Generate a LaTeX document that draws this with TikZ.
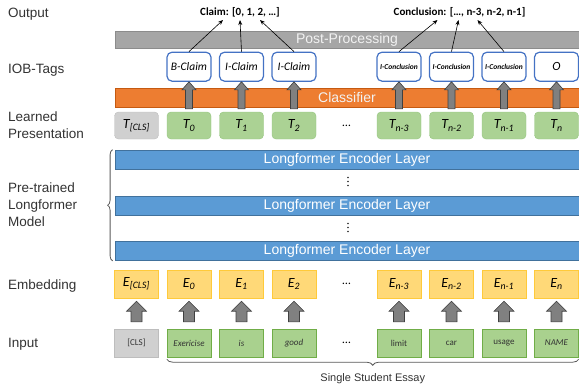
\documentclass[tikz,border=0pt]{standalone}
\usepackage{fontspec}
\setmainfont{Carlito}
\newfontfamily\labelfont{Liberation Sans}
\usetikzlibrary{arrows.meta,positioning,calc,decorations.pathreplacing}
\definecolor{labelText}{HTML}{333333}
\definecolor{postGray}{HTML}{A6A6A6}
\definecolor{postLine}{HTML}{8C8C8C}
\definecolor{postText}{HTML}{F2F2F2}
\definecolor{clfOrange}{HTML}{ED7D31}
\definecolor{clfLine}{HTML}{C55A11}
\definecolor{encBlue}{HTML}{5B9BD5}
\definecolor{encLine}{HTML}{41719C}
\definecolor{tokGreen}{HTML}{ABD294}
\definecolor{tokLine}{HTML}{93C47D}
\definecolor{clsGray}{HTML}{D0D0D0}
\definecolor{clsLine}{HTML}{BDBDBD}
\definecolor{embYellow}{HTML}{FFD978}
\definecolor{embLine}{HTML}{FFCA3A}
\definecolor{wordGreen}{HTML}{A9D18E}
\definecolor{wordLine}{HTML}{70AD47}
\definecolor{tagBlue}{HTML}{4472C4}
\definecolor{arrowGray}{HTML}{808080}
\definecolor{arrowLine}{HTML}{404040}
\definecolor{braceGray}{HTML}{595959}

\begin{document}
\begin{tikzpicture}[
      x=1pt, y=-1pt,
      node distance=8.1pt,
      rowlabel/.style={anchor=base west, align=left, inner sep=0pt, text=labelText, font=\labelfont\fontsize{13.5}{17}\selectfont},
      bar/.style={rectangle, minimum width=464pt, inner sep=0pt, line width=0.8pt, font=\labelfont\fontsize{14}{16}\selectfont},
      tok/.style={rectangle, rounded corners=4pt, minimum width=44pt, minimum height=27pt, inner sep=0pt, fill=tokGreen, draw=tokLine, font=\fontsize{14}{16}\selectfont\itshape},
      emb/.style={rectangle, minimum width=44pt, minimum height=28pt, inner sep=0pt, fill=embYellow, draw=embLine, font=\fontsize{14}{16}\selectfont\itshape},
      word/.style={rectangle, minimum width=44pt, minimum height=28pt, inner sep=0pt, fill=wordGreen, draw=wordLine, text=labelText, font=\fontsize{9}{11}\selectfont},
      tag/.style={rectangle, rounded corners=5pt, minimum width=44pt, minimum height=29pt, inner sep=0pt, fill=white, draw=tagBlue, line width=1.2pt, font=\fontsize{11.5}{13}\selectfont\itshape},
      skipcol/.style={minimum width=44pt, inner sep=0pt, font=\fontsize{12}{14}\selectfont},
      outtxt/.style={inner sep=3pt, font=\bfseries\fontsize{11}{13}\selectfont},
      outarrow/.style={-{Stealth[length=5pt,width=4pt]}, line width=0.6pt},
      fatgray/.style={fill=arrowGray, draw=arrowLine, line width=0.6pt},
      % shaft half width, head half width, head length, gap below, gap above
      fatup/.style n args={5}{to path={let \p1=(\tikztostart), \p2=(\tikztotarget) in
        (\x1-#1,\y1+#4) -- (\x1-#1,\y2-#5-#3) -- (\x1-#2,\y2-#5-#3) -- (\x1,\y2-#5)
        -- (\x1+#2,\y2-#5-#3) -- (\x1+#1,\y2-#5-#3) -- (\x1+#1,\y1+#4) -- cycle}},
      curly/.style={decorate, decoration={brace, amplitude=#1}, draw=braceGray, line width=0.8pt}
    ]
      \useasboundingbox (0,0) rectangle (579,389);

      % row labels
      \node[rowlabel] (lout) at (8,17) {Output};
      \node[rowlabel] (liob) at (8,73) {IOB-Tags};
      \node[rowlabel, anchor=west] (llearn) at (8,125.5) {Learned\\Presentation};
      \node[rowlabel, anchor=west] (lpre) at (8,205) {Pre-trained\\Longformer\\Model};
      \node[rowlabel] (lemb) at (8,289) {Embedding};
      \node[rowlabel] (lin) at (8,347) {Input};

      % wide layers
      \node[bar, minimum height=17pt, fill=postGray, draw=postLine, text=postText] (post) at (347,39.5) {Post-Processing};
      \node[bar, minimum height=19pt, fill=clfOrange, draw=clfLine, text=postText] (clf) at (347,97.5) {Classifier};
      \node[bar, minimum height=19pt, fill=encBlue, draw=encLine, text=white] (enc1) at (347,159.5) {Longformer Encoder Layer};
      \node[bar, minimum height=19pt, fill=encBlue, draw=encLine, text=white] (enc2) at (347,205.5) {Longformer Encoder Layer};
      \node[bar, minimum height=19pt, fill=encBlue, draw=encLine, text=white] (enc3) at (347,251) {Longformer Encoder Layer};
      % stacked layers in between
      \foreach \y in {177.5,181.5,185.5,223.5,227.5,231.5}
        \fill[black!85] (348,\y) circle (0.9);
      \draw[curly=5pt] ([xshift=-2pt]enc3.south west) -- ([xshift=-2pt]enc1.north west);

      % learned tokens
      \node[tok, fill=clsGray, draw=clsLine] (tcls) at (136.5,125.5) {T\textsubscript{[CLS]}};
      \node[tok, right=of tcls] (t0) {T\textsubscript{0}};
      \node[tok, right=of t0] (t1) {T\textsubscript{1}};
      \node[tok, right=of t1] (t2) {T\textsubscript{2}};
      \node[skipcol, right=of t2] (tdots) {…};
      \node[tok, right=of tdots] (tn3) {T\textsubscript{n-3}};
      \node[tok, right=of tn3] (tn2) {T\textsubscript{n-2}};
      \node[tok, right=of tn2] (tn1) {T\textsubscript{n-1}};
      \node[tok, right=of tn1] (tn) {T\textsubscript{n}};

      % IOB tags
      \node[tag, above=30pt of t0] (tg0) {B-Claim};
      \node[tag, above=30pt of t1] (tg1) {I-Claim};
      \node[tag, above=30pt of t2] (tg2) {I-Claim};
      \node[tag, above=30pt of tn3, font=\bfseries\itshape\fontsize{7.5}{9}\selectfont] (tgn3) {I-Conclusion};
      \node[tag, above=30pt of tn2, font=\bfseries\itshape\fontsize{7.5}{9}\selectfont] (tgn2) {I-Conclusion};
      \node[tag, above=30pt of tn1, font=\bfseries\itshape\fontsize{7.5}{9}\selectfont] (tgn1) {I-Conclusion};
      \node[tag, above=30pt of tn, font=\itshape\fontsize{12.5}{14}\selectfont] (tgn) {O};

      \foreach \a/\b in {t0/tg0, t1/tg1, t2/tg2, tn3/tgn3, tn2/tgn2, tn1/tgn1, tn/tgn}
        \draw[fatgray, fatup={3.5pt}{7pt}{8pt}{3pt}{0pt}] (\a.north) to (\b.south);

      % outputs
      \node[outtxt] (claim) at (240,12) {Claim: [0, 1, 2, …]};
      \node[outtxt] (concl) at (459.5,12) {Conclusion: […, n-3, n-2, n-1]};
      \draw[outarrow] (tg0.north) -- ([xshift=-17pt]claim.south);
      \draw[outarrow] (tg1.north) -- (claim.south);
      \draw[outarrow] (tg2.north) -- ([xshift=20pt]claim.south);
      \draw[outarrow] (tgn3.north) -- ([xshift=-22pt]concl.south);
      \draw[outarrow] (tgn2.north) -- ([xshift=-1pt]concl.south);
      \draw[outarrow] (tgn1.north) -- ([xshift=18pt]concl.south);

      % embeddings
      \node[emb] (ecls) at (136.5,284) {E\textsubscript{[CLS]}};
      \node[emb, right=of ecls] (e0) {E\textsubscript{0}};
      \node[emb, right=of e0] (e1) {E\textsubscript{1}};
      \node[emb, right=of e1] (e2) {E\textsubscript{2}};
      \node[skipcol, right=of e2] (edots) {…};
      \node[emb, right=of edots] (en3) {E\textsubscript{n-3}};
      \node[emb, right=of en3] (en2) {E\textsubscript{n-2}};
      \node[emb, right=of en2] (en1) {E\textsubscript{n-1}};
      \node[emb, right=of en1] (en) {E\textsubscript{n}};

      % input words
      \node[word, fill=clsGray, draw=clsLine] (icls) at (136.5,343) {[CLS]};
      \node[word, right=of icls] (i0) {\itshape Exericise};
      \node[word, right=of i0] (i1) {\itshape is};
      \node[word, right=of i1] (i2) {\itshape good};
      \node[skipcol, right=of i2] (idots) {…};
      \node[word, right=of idots] (in3) {limit};
      \node[word, right=of in3] (in2) {car};
      \node[word, right=of in2] (in1) {usage};
      \node[word, right=of in1] (in) {\itshape NAME};

      \foreach \a/\b in {icls/ecls, i0/e0, i1/e1, i2/e2, in3/en3, in2/en2, in1/en1, in/en}
        \draw[fatgray, fatup={5.5pt}{10pt}{10pt}{7pt}{3pt}] (\a.north) to (\b.south);

      \draw[curly=6pt] ([yshift=-2pt]in.south east) -- ([yshift=-2pt]i0.south west)
        node[midway, below=14pt, inner sep=0pt, text=labelText, font=\labelfont\fontsize{11}{13}\selectfont] (essay) {Single Student Essay};
    \end{tikzpicture}
\end{document}
